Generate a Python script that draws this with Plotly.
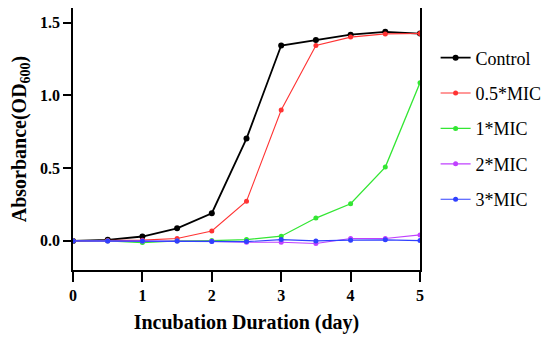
import plotly.graph_objects as go

days = [0, 0.5, 1, 1.5, 2, 2.5, 3, 3.5, 4, 4.5, 5]
control = [0.0, 0.007, 0.03, 0.086, 0.19, 0.703, 1.342, 1.381, 1.417, 1.436, 1.424]
mic05 = [0.0, 0.003, 0.005, 0.016, 0.068, 0.273, 0.899, 1.342, 1.40, 1.422, 1.425]
mic1 = [0.0, 0.0, -0.011, 0.0, 0.002, 0.009, 0.032, 0.157, 0.255, 0.507, 1.087]
mic2 = [0.0, 0.0, 0.0, 0.0, -0.003, -0.009, -0.009, -0.018, 0.016, 0.016, 0.041]
mic3 = [0.0, 0.0, 0.0, 0.0, -0.005, -0.005, 0.009, 0.0, 0.005, 0.007, 0.002]

names = ["Control", "0.5*MIC", "1*MIC", "2*MIC", "3*MIC"]
series = [control, mic05, mic1, mic2, mic3]
colors = ["#000000", "#ff3333", "#33e633", "#c040ff", "#3040ff"]
widths = [1.8, 1.1, 1.3, 1.1, 1.1]
msizes = [6, 5, 5, 5, 5]

fig = go.Figure()
for i, (n, s, c, w, m) in enumerate(zip(names, series, colors, widths, msizes)):
    fig.add_trace(go.Scatter(
        x=days, y=s, name=n, mode="lines+markers",
        line=dict(color=c, width=w),
        marker=dict(color=c, size=m, symbol="circle"),
        legendgroup=f"g{i}",
    ))

ff = "Times New Roman"
fig.update_layout(
    width=550, height=338,
    margin=dict(l=65, r=138, t=0, b=76, autoexpand=False),
    paper_bgcolor="white", plot_bgcolor="white",
    font=dict(family=ff, color="black", size=16),
    legend=dict(x=1.045, y=0.88, xanchor="left", yanchor="top",
                font=dict(size=18, family=ff),
                tracegroupgap=9, bgcolor="rgba(0,0,0,0)"),
    xaxis=dict(range=[0, 5], tickvals=[0, 1, 2, 3, 4, 5],
               showline=True, linecolor="black", linewidth=1.5, mirror=True,
               ticks="outside", ticklen=10, tickwidth=1.5, tickcolor="black",
               showgrid=False, zeroline=False, automargin=False,
               tickfont=dict(size=16, family=ff, weight="bold"),
               title=dict(text="<b>Incubation Duration (day)</b>",
                          font=dict(size=20, family=ff), standoff=12)),
    yaxis=dict(range=[-0.2, 1.6], tickvals=[0, 0.5, 1.0, 1.5],
               ticktext=["0.0", "0.5", "1.0", "1.5"],
               showline=True, linecolor="black", linewidth=1.5, mirror=True,
               ticks="outside", ticklen=8, tickwidth=1.5, tickcolor="black",
               showgrid=False, zeroline=False, automargin=False,
               tickfont=dict(size=16, family=ff, weight="bold"),
               title=dict(text="<b>Absorbance(OD<sub>600</sub>)</b>",
                          font=dict(size=20, family=ff), standoff=21)),
)
fig.write_html("out.html")
